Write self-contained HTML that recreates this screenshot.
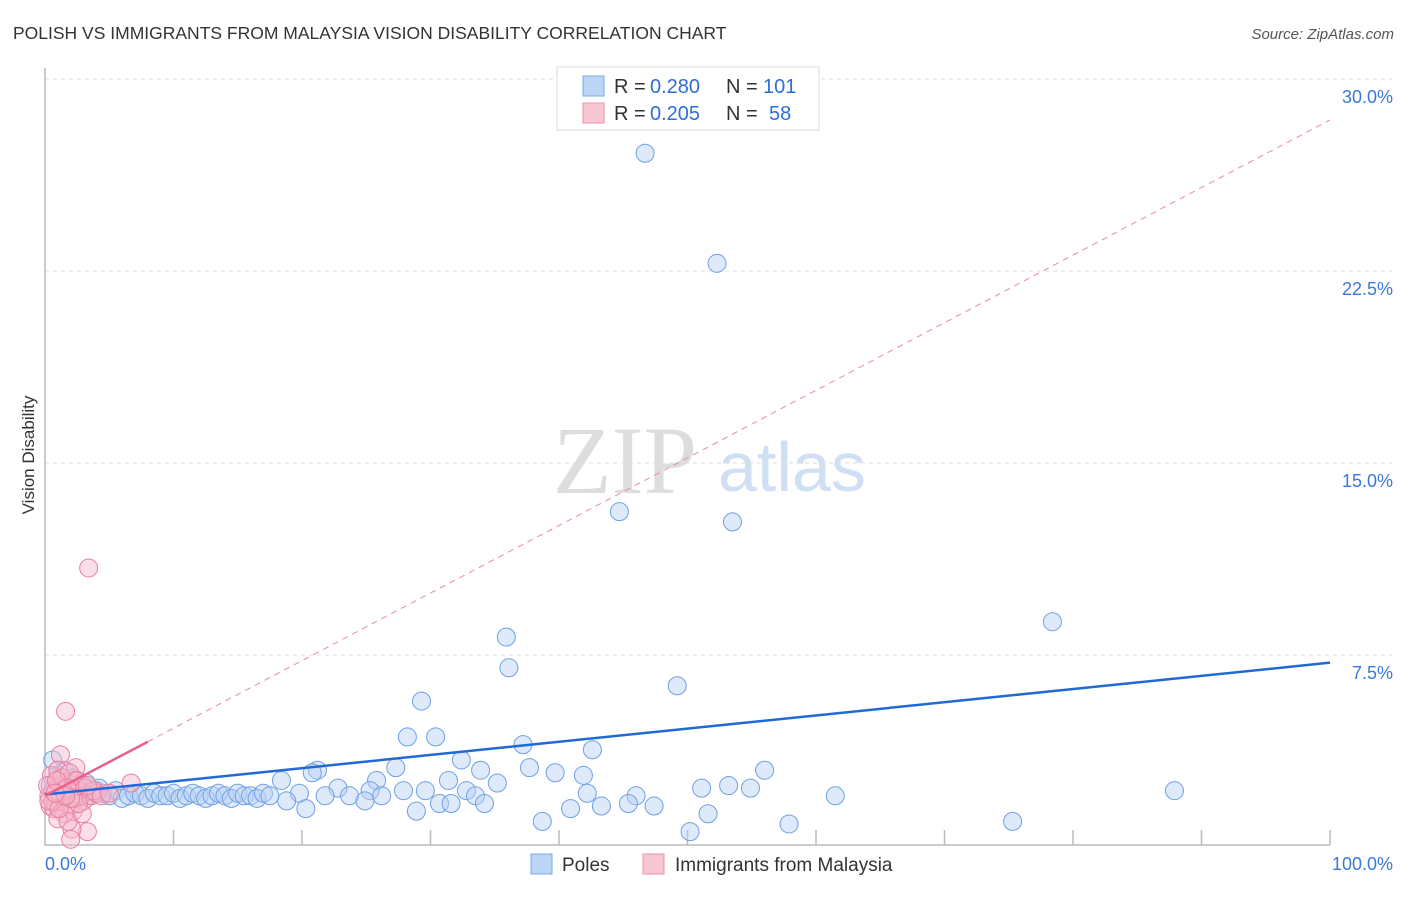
<!DOCTYPE html>
<html><head><meta charset="utf-8"><style>
body{margin:0;background:#fff;font-family:"Liberation Sans",sans-serif;}
svg text{font-family:"Liberation Sans",sans-serif;}
</style></head><body>
<svg id="c" width="1406" height="892" xmlns="http://www.w3.org/2000/svg">
<text x="13" y="39" font-size="17.5" fill="#333">POLISH VS IMMIGRANTS FROM MALAYSIA VISION DISABILITY CORRELATION CHART</text>
<text x="1394" y="39" font-size="15" fill="#555" font-style="italic" text-anchor="end">Source: ZipAtlas.com</text>
<text x="34" y="455" font-size="17" fill="#333" text-anchor="middle" transform="rotate(-90 34 455)">Vision Disability</text>
<g>
<text x="553" y="493" font-size="96" fill="#ddd" font-family="Liberation Serif" style="font-family:'Liberation Serif',serif">ZIP</text>
<text x="718" y="491" font-size="70" fill="#cfe0f5">atlas</text>
</g>
<g id="grid"></g><g id="axes"></g><g id="lines"></g><g id="pts"></g>
<g>
<rect x="557" y="67" width="262" height="63" fill="#fff" stroke="#ddd"/>
<rect x="583" y="76" width="21" height="20" fill="#bcd5f5" stroke="#7aaae8"/>
<rect x="583" y="103" width="21" height="20" fill="#f9c6d4" stroke="#ee8fab"/>
<text x="614" y="93" font-size="20" fill="#333">R =</text>
<text x="650" y="93" font-size="20" fill="#2d6fd4">0.280</text>
<text x="726" y="93" font-size="20" fill="#333">N =</text>
<text x="763" y="93" font-size="20" fill="#2d6fd4">101</text>
<text x="614" y="120" font-size="20" fill="#333">R =</text>
<text x="650" y="120" font-size="20" fill="#2d6fd4">0.205</text>
<text x="726" y="120" font-size="20" fill="#333">N =</text>
<text x="769" y="120" font-size="20" fill="#2d6fd4">58</text>
</g>
<g>
<rect x="531" y="854" width="21" height="20" fill="#bcd5f5" stroke="#7aaae8"/>
<text x="562" y="871" font-size="19" fill="#333">Poles</text>
<rect x="643" y="854" width="21" height="20" fill="#f9c6d4" stroke="#ee8fab"/>
<text x="675" y="871" font-size="19" fill="#333">Immigrants from Malaysia</text>
</g>
</svg>
<script>
const yTicks=[7.5,15,22.5,30];
const yTickLabels=["7.5%","15.0%","22.5%","30.0%"];
const xTickLabels=["0.0%","100.0%"];
const polesX=[46.7,52.3,44.7,53.5,78.4,35.9,36.1,49.2,29.3,28.2,30.4,37.2,42.6,32.4,21.2,20.8,27.3,37.7,33.9,56.0,39.7,41.9,18.4,25.8,31.4,35.2,53.2,54.9,51.1,87.9,61.5,46.0,42.2,32.8,27.9,22.8,25.3,19.8,21.8,23.7,26.2,29.6,30.7,31.6,33.5,34.2,24.9,20.3,18.8,28.9,38.7,40.9,43.3,45.4,47.4,51.6,50.2,57.9,75.3,
0.4,0.8,1.2,1.6,2.0,2.5,3.0,3.5,4.0,4.5,5.0,5.5,6.0,6.5,7.0,7.5,8.0,8.5,9.0,9.5,10.0,10.5,11.0,11.5,12.0,12.5,13.0,13.5,14.0,14.5,15.0,15.5,16.0,16.5,17.0,17.5,1.0,1.5,2.2,0.6,3.2,4.2];
const polesY=[27.1,22.8,13.1,12.7,8.8,8.2,7.0,6.3,5.7,4.3,4.3,4.0,3.8,3.4,3.0,2.9,3.1,3.1,3.0,3.0,2.9,2.8,2.6,2.6,2.6,2.5,2.4,2.3,2.3,2.2,2.0,2.0,2.1,2.2,2.2,2.3,2.2,2.1,2.0,2.0,2.0,2.2,1.7,1.7,2.0,1.7,1.8,1.5,1.8,1.4,1.0,1.5,1.6,1.7,1.6,1.3,0.6,0.9,1.0,
2.4,2.2,2.6,2.0,2.3,2.1,2.4,2.0,2.2,2.1,2.0,2.2,1.9,2.0,2.1,2.0,1.9,2.1,2.0,2.0,2.1,1.9,2.0,2.1,2.0,1.9,2.0,2.1,2.0,1.9,2.1,2.0,2.0,1.9,2.1,2.0,2.8,3.0,2.7,3.4,2.5,2.3];
const malX=[3.4,1.6,1.2,2.4,6.7,3.3,2.1,2.0,0.3,0.6,0.9,1.2,1.5,1.8,2.1,2.4,2.7,3.0,0.4,0.8,1.1,1.4,1.7,2.0,2.3,2.6,0.5,1.0,1.3,1.9,2.2,2.8,0.2,0.7,1.5,2.5,3.1,3.6,4.0,1.0,1.8,2.9,0.6,1.2,2.2,3.8,4.4,5.0,1.4,2.6,0.9,1.7,0.3,3.3,1.1,2.0,1.6,0.8];
const malY=[10.9,5.3,3.6,3.1,2.5,0.6,0.7,0.3,2.0,2.2,1.9,2.1,1.8,2.0,2.3,1.9,2.1,1.8,1.6,1.7,2.4,2.5,2.2,1.6,2.6,2.2,2.8,3.0,2.7,2.9,1.4,2.0,2.4,1.5,1.3,2.6,2.3,2.0,2.1,1.1,1.0,1.3,1.8,2.0,1.9,2.2,2.0,2.1,2.2,1.7,2.6,2.3,1.8,2.4,1.5,1.9,2.0,2.1];
const polesTrend=[2.05,7.2];
const malTrend=[2.0,28.4];
const X=v=>45+v*12.85, Y=v=>847-v*25.6;
const NS="http://www.w3.org/2000/svg";
function mk(t,a,p){const e=document.createElementNS(NS,t);for(const k in a)e.setAttribute(k,a[k]);p.appendChild(e);return e;}
const grid=document.getElementById('grid'),axes=document.getElementById('axes'),lines=document.getElementById('lines'),pts=document.getElementById('pts');
yTicks.forEach((v,i)=>{
 const l=mk('line',{x1:45,x2:1392,y1:Y(v),y2:Y(v),stroke:'#ddd','stroke-dasharray':'4,4'},grid);
 
 
 const t=mk('text',{x:1393,y:Y(v)+24,'font-size':18,fill:'#3b78d8','text-anchor':'end'},axes);t.textContent=yTickLabels[i];
 
 
});
const ax=mk('path',{d:'M45,68 L45,845 L1330,845',fill:'none',stroke:'#bbb','stroke-width':1.5},axes);


for(let i=1;i<=10;i++){const tk=mk('line',{x1:45+i*128.5,x2:45+i*128.5,y1:830,y2:845,stroke:'#bbb','stroke-width':1.5},axes);
 
 }
[[0,'start',45],[100,'end',1393]].forEach((d,i)=>{const t=mk('text',{x:d[2],y:870,'font-size':18,fill:'#3b78d8','text-anchor':d[1]},axes);t.textContent=xTickLabels[i];
 
 });
function dot(x,y,f,s,n){const c=mk('circle',{cx:X(x),cy:Y(y),r:9,fill:f,stroke:s,'stroke-width':1,'fill-opacity':0.45},pts);
 
 }
polesX.forEach((x,i)=>dot(x,polesY[i],'#b6d1f4','#6ea0e4','poles-point'));
malX.forEach((x,i)=>dot(x,malY[i],'#f7b9cb','#ea7f9f','malaysia-point'));
const slope=(malTrend[1]-malTrend[0])/100;
let e=mk('line',{x1:X(8),y1:Y(malTrend[0]+slope*8),x2:X(100),y2:Y(malTrend[1]),stroke:'#e88aa6','stroke-width':1,'stroke-dasharray':'6,5'},lines);


e=mk('line',{x1:X(0),y1:Y(polesTrend[0]),x2:X(100),y2:Y(polesTrend[1]),stroke:'#1f6ad6','stroke-width':2.5},pts);


e=mk('line',{x1:X(0),y1:Y(malTrend[0]),x2:X(8),y2:Y(malTrend[0]+slope*8),stroke:'#e4628a','stroke-width':2.5},pts);


</script>
</body></html>
